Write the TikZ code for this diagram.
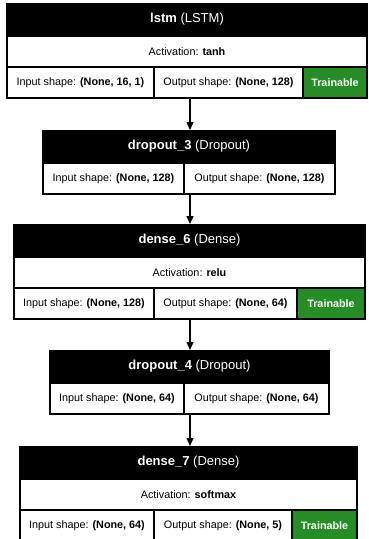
\documentclass[tikz,border=0pt]{standalone}
\usepackage{fontspec}
\setmainfont{Liberation Sans}
\usetikzlibrary{arrows.meta}

\definecolor{trainGreen}{RGB}{38,140,38}

% cell: a filled rectangle placed by its north-west corner (x1,y1) to (x2,y2), y measured downward
\newcommand{\cellnode}[7]{%
  \node[#6, anchor=north west, minimum width={(#4-#2)*1pt}, minimum height={(#5-#3)*1pt}]
    (#1) at (#2pt,-#3pt) {#7};}

\tikzset{
  frame/.style={fill=black, draw=none, inner sep=0pt, outer sep=0pt},
  titlecell/.style={fill=none, draw=none, inner sep=0pt, outer sep=0pt, text=white,
    font=\fontsize{13}{15}\selectfont},
  infocell/.style={fill=white, draw=none, inner sep=0pt, outer sep=0pt, text=black,
    font=\fontsize{10.8}{13}\selectfont},
  traincell/.style={fill=trainGreen, draw=none, inner sep=0pt, outer sep=0pt, text=white,
    font=\fontsize{10.8}{13}\selectfont\bfseries},
  flow/.style={draw=black, line width=1.1pt, -{Triangle[length=8pt,width=7pt]}},
}

\begin{document}
\begin{tikzpicture}
\useasboundingbox (0,0) rectangle (369pt,-539pt);
\fill[white] (0,0) rectangle (369pt,-539pt);

% ---- lstm ----
\cellnode{b1}{6}{3}{368}{99}{frame}{}
\cellnode{b1t}{8}{3}{366}{36}{titlecell}{\textbf{lstm} (LSTM)}
\cellnode{b1a}{8}{37}{366}{66}{infocell}{Activation: \textbf{tanh}}
\cellnode{b1i}{8}{68}{153}{97}{infocell}{Input shape: \textbf{(None, 16, 1)}}
\cellnode{b1o}{155}{68}{302}{97}{infocell}{Output shape: \textbf{(None, 128)}}
\cellnode{b1g}{304}{68}{366}{97}{traincell}{Trainable}

% ---- dropout_3 ----
\cellnode{b2}{42}{130}{336}{195}{frame}{}
\cellnode{b2t}{44}{130}{334}{163}{titlecell}{\textbf{dropout\_3} (Dropout)}
\cellnode{b2i}{44}{164}{183}{193}{infocell}{Input shape: \textbf{(None, 128)}}
\cellnode{b2o}{185}{164}{334}{193}{infocell}{Output shape: \textbf{(None, 128)}}

% ---- dense_6 ----
\cellnode{b3}{13}{224}{366}{320}{frame}{}
\cellnode{b3t}{15}{224}{364}{257}{titlecell}{\textbf{dense\_6} (Dense)}
\cellnode{b3a}{15}{258}{364}{287}{infocell}{Activation: \textbf{relu}}
\cellnode{b3i}{15}{289}{153}{318}{infocell}{Input shape: \textbf{(None, 128)}}
\cellnode{b3o}{155}{289}{296}{318}{infocell}{Output shape: \textbf{(None, 64)}}
\cellnode{b3g}{298}{289}{364}{318}{traincell}{Trainable}

% ---- dropout_4 ----
\cellnode{b4}{49}{350}{330}{415}{frame}{}
\cellnode{b4t}{51}{350}{328}{383}{titlecell}{\textbf{dropout\_4} (Dropout)}
\cellnode{b4i}{51}{384}{183}{413}{infocell}{Input shape: \textbf{(None, 64)}}
\cellnode{b4o}{185}{384}{328}{413}{infocell}{Output shape: \textbf{(None, 64)}}

% ---- dense_7 ----
\cellnode{b5}{19}{446}{358}{542}{frame}{}
\cellnode{b5t}{21}{446}{356}{479}{titlecell}{\textbf{dense\_7} (Dense)}
\cellnode{b5a}{21}{480}{356}{509}{infocell}{Activation: \textbf{softmax}}
\cellnode{b5i}{21}{511}{153}{540}{infocell}{Input shape: \textbf{(None, 64)}}
\cellnode{b5o}{155}{511}{291}{540}{infocell}{Output shape: \textbf{(None, 5)}}
\cellnode{b5g}{293}{511}{356}{540}{traincell}{Trainable}

% ---- connectors ----
\coordinate (axis) at (190pt,0);
\draw[flow] (b1.south -| axis) -- (b2.north -| axis);
\draw[flow] (b2.south -| axis) -- (b3.north -| axis);
\draw[flow] (b3.south -| axis) -- (b4.north -| axis);
\draw[flow] (b4.south -| axis) -- (b5.north -| axis);
\end{tikzpicture}
\end{document}
